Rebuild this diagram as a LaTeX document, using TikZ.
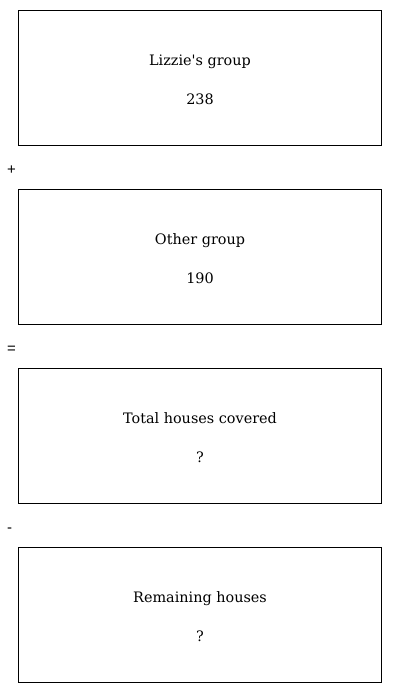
\documentclass[tikz,border=0pt]{standalone}
\usepackage{fontspec}
\newfontfamily\opfont{Liberation Sans}
\newfontfamily\txtfont{DejaVu Serif}
\begin{document}
\begin{tikzpicture}[x=1pt,y=-1pt,
  panel/.style={draw=black,line width=0.9pt,minimum width=363pt,minimum height=135pt,inner sep=0pt,anchor=north west},
  txt/.style={anchor=base,inner sep=0pt,font=\txtfont\fontsize{14.4}{17}\selectfont},
  op/.style={anchor=base west,inner sep=0pt,font=\opfont\fontsize{15}{17}\selectfont}]
\useasboundingbox (0,0) rectangle (400,693);
\node[panel] (b1) at (18,10) {};
\node[panel] (b2) at (18,189) {};
\node[panel] (b3) at (18,368) {};
\node[panel] (b4) at (18,547) {};
\node[txt] (t1) at (200,65.5) {Lizzie\textquotesingle s group};
\node[txt] (n1) at (200,104) {238};
\node[txt] (t2) at (200,244.5) {Other group};
\node[txt] (n2) at (200,283) {190};
\node[txt] (t3) at (200,423.5) {Total houses covered};
\node[txt] (n3) at (200,462) {?};
\node[txt] (t4) at (200,602.5) {Remaining houses};
\node[txt] (n4) at (200,641) {?};
\node[op] (o1) at (7,174.5) {+};
\node[op] (o2) at (7,353.5) {=};
\node[op] (o3) at (7,532.5) {-};
\end{tikzpicture}
\end{document}
